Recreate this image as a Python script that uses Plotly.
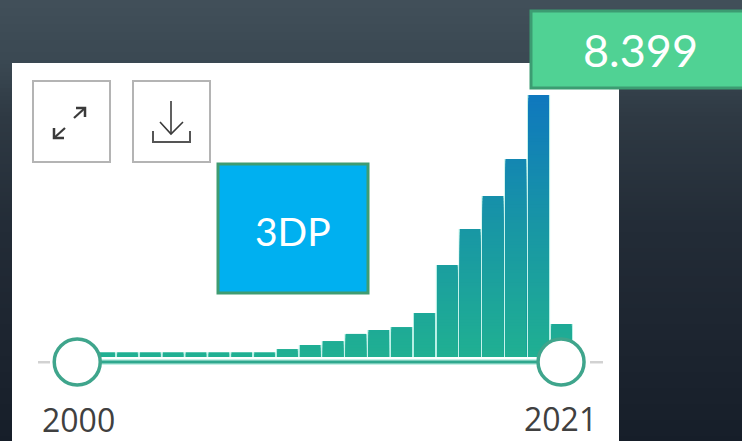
import plotly.graph_objects as go

W, H = 742, 441

years = list(range(2000, 2022))
values = [150, 150, 150, 150, 150, 150, 150, 150, 150, 255, 385, 510, 740, 865, 960, 1410, 2950, 4100, 5160, 6347, 8399, 1058]
handle_years = [1999.8, 2020.98]
start_label = "2000"
end_label = "2021"
series_label = "3DP"
value_label = "8.399"

BAND = 100
BOTTOM = (32, 176, 146)
MID = (24, 150, 165)
TOP = (15, 120, 190)
BG_STOPS = [(0.0, (65, 79, 89)), (0.14, (58, 72, 82)), (0.25, (47, 58, 68)), (0.5, (35, 44, 55)), (0.75, (29, 37, 48)), (1.0, (22, 30, 41))]


def mix(a, b, t):
    return tuple(round(a[i] + (b[i] - a[i]) * t) for i in range(3))


def rgb(c):
    return f"rgb({c[0]},{c[1]},{c[2]})"


def bar_color(t):
    return rgb(mix(BOTTOM, MID, t * 2) if t < 0.5 else mix(MID, TOP, (t - 0.5) * 2))


def bg_color(t):
    for (t0, c0), (t1, c1) in zip(BG_STOPS, BG_STOPS[1:]):
        if t <= t1:
            return rgb(mix(c0, c1, (t - t0) / (t1 - t0)))
    return rgb(BG_STOPS[-1][1])


def px(x):
    return x / W


def py(y):
    return 1 - y / H


def rect(x0, y0, x1, y1, fill=None, line=None, width=0, layer="below"):
    return dict(type="rect", xref="paper", yref="paper", x0=px(x0), x1=px(x1), y0=py(y1), y1=py(y0),
                fillcolor=fill or "rgba(0,0,0,0)", line=dict(color=line or "rgba(0,0,0,0)", width=width), layer=layer)


def poly(points, color, width):
    d = "M " + " L ".join(f"{px(x):.5f} {py(y):.5f}" for x, y in points)
    return dict(type="path", xref="paper", yref="paper", path=d, line=dict(color=color, width=width), layer="above")


# Axis mapping: the plot area fills the page, so that the picture's geometry is set by the ranges
x_per_px = 1 / 22.843
x_left = 2000 - 81.8 * x_per_px
y_per_px = 8399 / 262
y_bottom = -(H - 357) * y_per_px

fig = go.Figure()

fig.add_trace(go.Bar(x=years, y=values, width=1.0, marker=dict(color="#b5efe4", line=dict(width=0)), hoverinfo="skip"))

top_value = max(values)
n_bands = int(top_value // BAND) + 1
for k in range(n_bands, 0, -1):
    limit = k * BAND
    clipped = [min(v, limit) if v > limit - BAND else 0 for v in values]
    fig.add_trace(go.Bar(x=years, y=clipped, width=0.9,
                         marker=dict(color=bar_color(min(1, (k - 0.5) * BAND / top_value)), line=dict(width=0)),
                         hoverinfo="skip"))

slider_y = -5 * y_per_px
fig.add_trace(go.Scatter(x=handle_years, y=[slider_y, slider_y], mode="lines",
                         line=dict(color="#c4f1e6", width=6), hoverinfo="skip"))
fig.add_trace(go.Scatter(x=handle_years, y=[slider_y, slider_y], mode="lines",
                         line=dict(color="#2fa88e", width=3), hoverinfo="skip"))
fig.add_trace(go.Scatter(x=handle_years, y=[slider_y, slider_y], mode="markers",
                         marker=dict(size=46, color="white", line=dict(color="#3fa58c", width=3.5)),
                         hoverinfo="skip"))

shapes = []
for i in range(0, H, 4):
    shapes.append(rect(0, i, W, i + 4.5, fill=bg_color(i / H)))
shapes.append(rect(12, 63, 619, H, fill="white"))
shapes.append(rect(38, 361, 50, 363.5, fill="#d2d2d2"))
shapes.append(rect(590, 361, 603, 363.5, fill="#d2d2d2"))
shapes.append(rect(33, 81, 110, 162, line="#b4b4b4", width=2))
shapes.append(rect(133, 81, 210, 162, line="#b4b4b4", width=2))

ICON = "#3a3a3a"
shapes.append(poly([(54, 138), (65, 128)], ICON, 2.2))
shapes.append(poly([(54, 128), (54, 138), (64, 138)], ICON, 2.5))
shapes.append(poly([(74, 118), (85, 108)], ICON, 2.2))
shapes.append(poly([(76, 108), (85, 108), (85, 117)], ICON, 2.5))
shapes.append(poly([(171, 101), (171, 134)], ICON, 1.6))
shapes.append(poly([(160, 122), (171, 134), (183, 122)], ICON, 1.6))
shapes.append(poly([(153, 131), (153, 142), (190, 142), (190, 131)], "#555555", 2))

shapes.append(rect(218, 164, 368, 293, fill="#00b0f0", line="#3f9c72", width=3, layer="above"))
shapes.append(rect(531, 11, 745, 88, fill="#50d294", line="#3c9c72", width=3, layer="above"))


def label(x, y, text, size, color, family):
    return dict(xref="paper", yref="paper", x=px(x), y=py(y), text=text, showarrow=False,
                xanchor="center", yanchor="middle", font=dict(family=family, size=size, color=color))


annotations = [
    label(78, 419, start_label, 32, "#404040", "Open Sans"),
    label(560, 418, end_label, 32, "#404040", "Open Sans"),
    label(293, 231, series_label, 39, "white", "Lato"),
    label(640, 50, value_label, 45, "white", "Lato"),
]

fig.update_layout(
    width=W, height=H, autosize=False, barmode="overlay", showlegend=False,
    margin=dict(l=0, r=0, t=0, b=0), paper_bgcolor="#2a333d", plot_bgcolor="rgba(0,0,0,0)",
    xaxis=dict(visible=False, range=[x_left, x_left + W * x_per_px], fixedrange=True),
    yaxis=dict(visible=False, range=[y_bottom, y_bottom + H * y_per_px], fixedrange=True),
    shapes=shapes, annotations=annotations,
)

fig.write_html("out.html", config=dict(displayModeBar=False),
               post_script="document.body.style.margin='0';document.documentElement.style.overflow='hidden';")
